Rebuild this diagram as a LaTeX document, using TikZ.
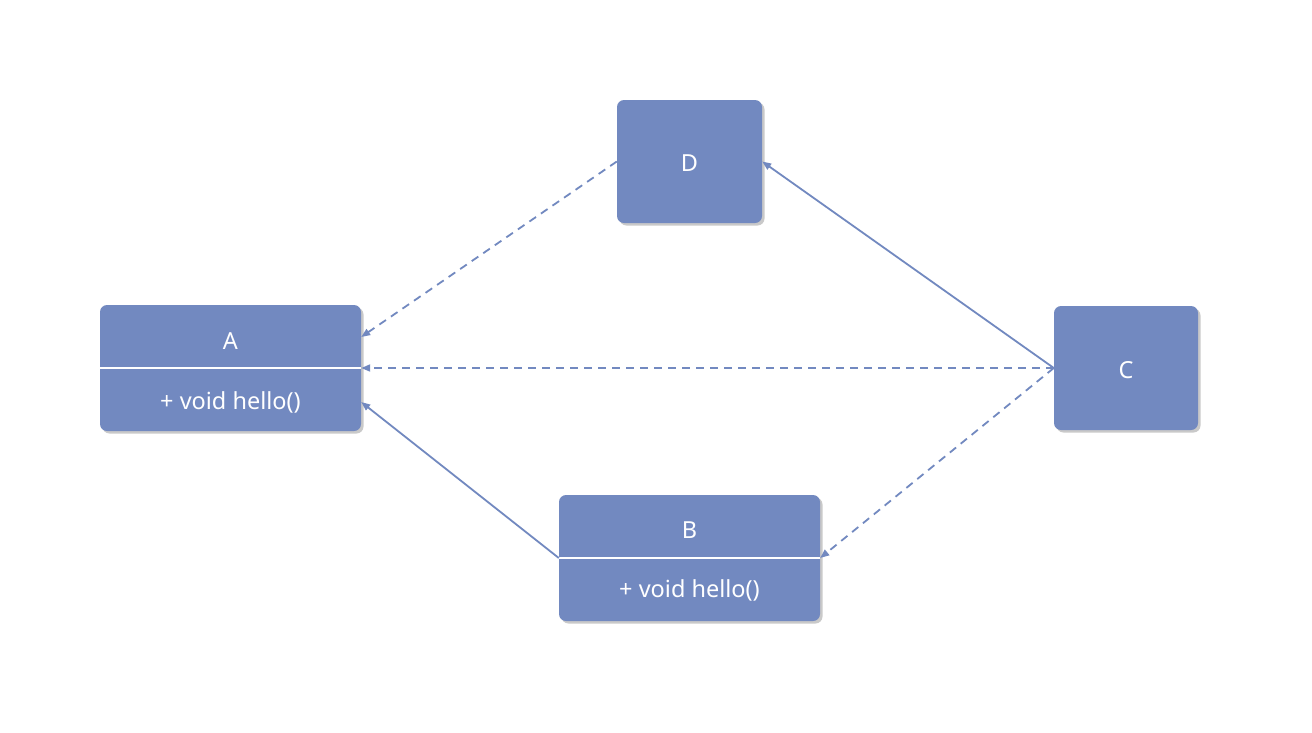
\documentclass[tikz,border=0pt]{standalone}
\usepackage{fontspec}
\setmainfont{Noto Sans}
\usetikzlibrary{arrows.meta,shadows}
\definecolor{boxblue}{RGB}{114,137,192}
\tikzset{
  box/.style={fill=boxblue, draw=none, rounded corners=7pt, inner sep=0pt,
    drop shadow={shadow xshift=2.5pt, shadow yshift=-2.5pt, opacity=0.35, fill=black!60}},
  lbl/.style={text=white, font=\fontsize{23.5}{27}\selectfont, inner sep=0pt},
  sep/.style={draw=white, line width=2pt},
  conn/.style={draw=boxblue, line width=1.8pt, -{Triangle[length=9pt,width=7pt]}},
  dconn/.style={conn, dash pattern=on 8pt off 6pt},
}
\begin{document}
\begin{tikzpicture}[x=1pt,y=-1pt]
\useasboundingbox[fill=white] (0,0) rectangle (1312,732);
% boxes
\node[box, minimum width=261pt, minimum height=126pt] (A) at (230.5,368) {};
\node[box, minimum width=261pt, minimum height=126pt] (B) at (689.5,558) {};
\node[box, minimum width=144pt, minimum height=124pt] (C) at (1126,368) {};
\node[box, minimum width=145pt, minimum height=123pt] (D) at (689.5,161.5) {};
% separators
\draw[sep] (A.west) -- (A.east);
\draw[sep] (B.west) -- (B.east);
% labels
\node[lbl] (At) at (230.5,341) {A};
\node[lbl] (Ao) at (230.5,402) {+ void hello()};
\node[lbl] (Bt) at (689.5,530) {B};
\node[lbl] (Bo) at (689.5,590) {+ void hello()};
\node[lbl] (Ct) at (1126,370) {C};
\node[lbl] (Dt) at (689.5,163) {D};
% connectors
\draw[dconn] (D.west) -- ([yshift=31pt]A.east);
\draw[conn] (C.west) -- (D.east);
\draw[dconn] (C.west) -- (A.east);
\draw[dconn] (C.west) -- (B.east);
\draw[conn] (B.west) -- ([yshift=-34pt]A.east);
\end{tikzpicture}
\end{document}
